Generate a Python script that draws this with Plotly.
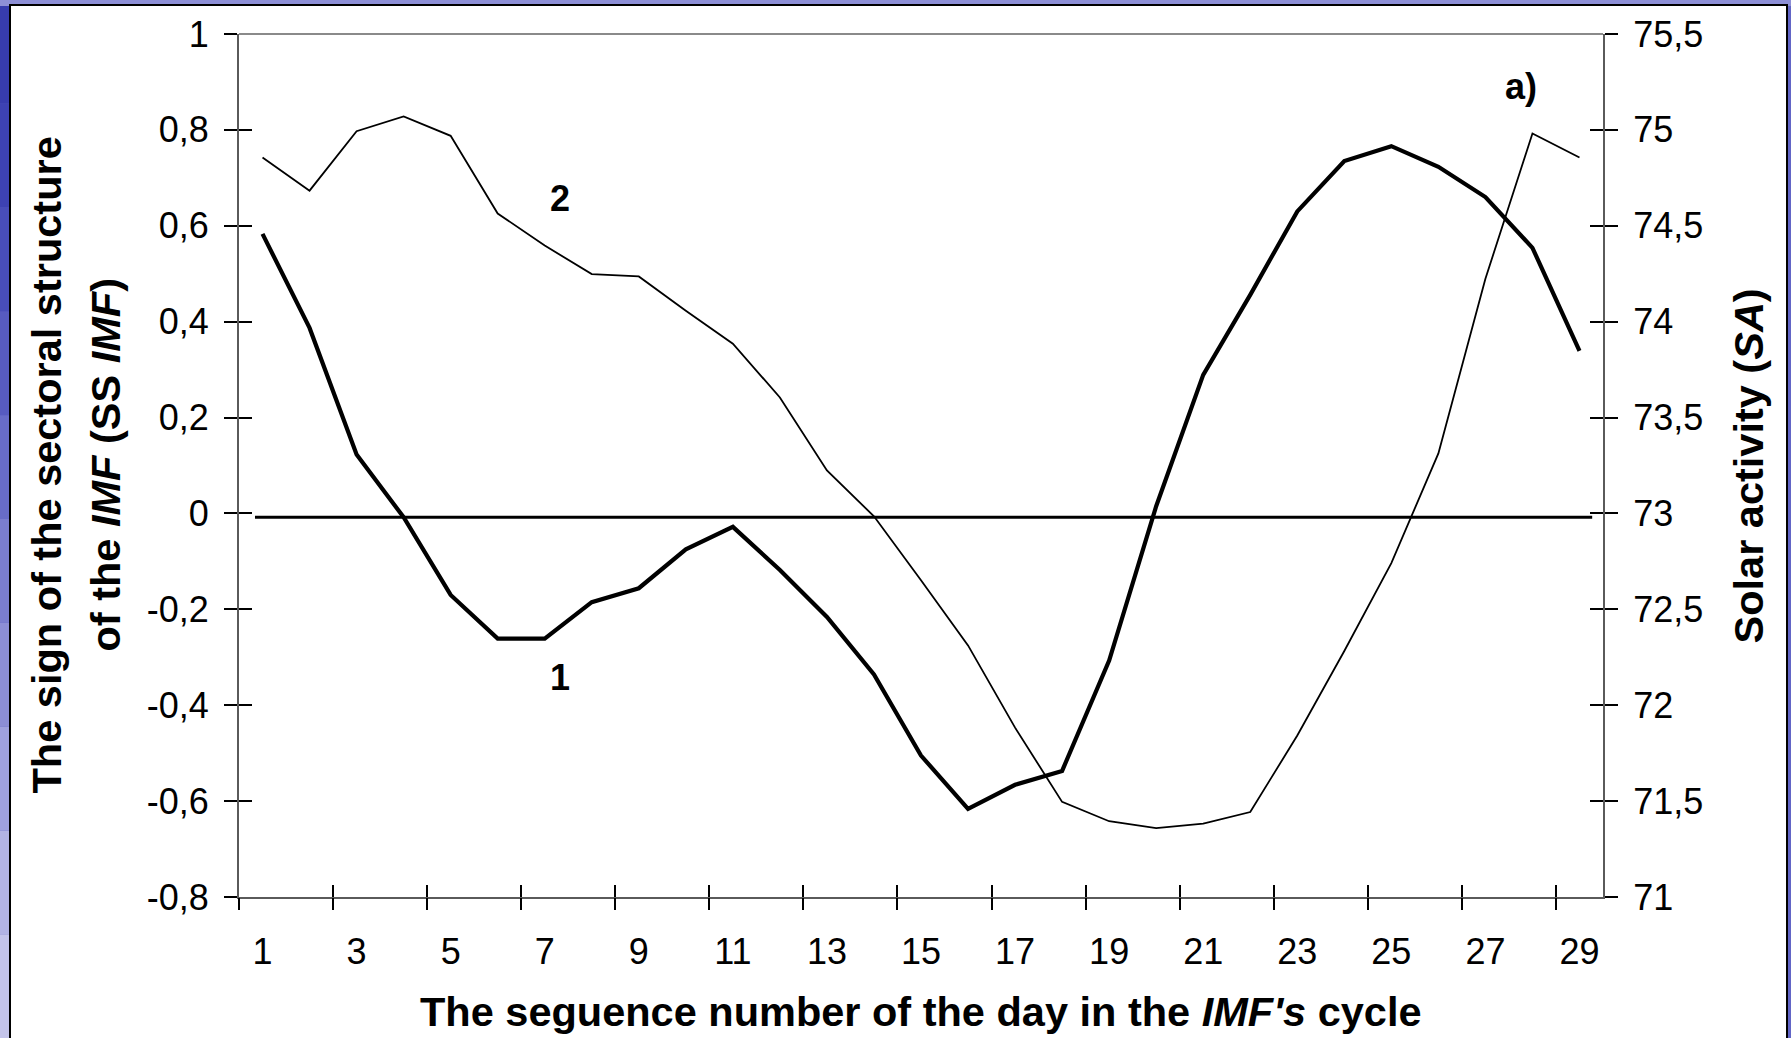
import plotly.graph_objects as go

# ---------------- data ----------------
days = list(range(1, 30))
ss_imf = [0.583, 0.387, 0.123, -0.008, -0.170, -0.261, -0.261, -0.185, -0.156, -0.075,
          -0.028, -0.118, -0.216, -0.336, -0.505, -0.616, -0.566, -0.537, -0.307, 0.015,
          0.289, 0.456, 0.630, 0.735, 0.766, 0.723, 0.660, 0.554, 0.339]
solar_activity = [74.856, 74.683, 74.993, 75.070, 74.969, 74.564, 74.397, 74.248, 74.236, 74.057,
                  73.885, 73.605, 73.224, 72.985, 72.652, 72.312, 71.883, 71.496, 71.395, 71.359,
                  71.383, 71.443, 71.842, 72.283, 72.741, 73.313, 74.224, 74.981, 74.856]
zero_line_x = [0.84, 29.27]
zero_line_y = [-0.008, -0.008]

x_tick_vals = list(range(1, 30, 2))
x_tick_text = [str(v) for v in x_tick_vals]
x_tick_marks = [0.5 + 2 * k for k in range(15)]

left_tick_vals = [1, 0.8, 0.6, 0.4, 0.2, 0, -0.2, -0.4, -0.6, -0.8]
left_tick_text = ["1", "0,8", "0,6", "0,4", "0,2", "0", "-0,2", "-0,4", "-0,6", "-0,8"]
right_tick_vals = [75.5, 75, 74.5, 74, 73.5, 73, 72.5, 72, 71.5, 71]
right_tick_text = ["75,5", "75", "74,5", "74", "73,5", "73", "72,5", "72", "71,5", "71"]

# ---------------- layout geometry ----------------
W, H = 1791, 1038
ML, MR, MT, MB = 239, 188, 34, 141
PW, PH = W - ML - MR, H - MT - MB


def px(x):
    return (x - ML) / PW


def py(y):
    return (H - MB - y) / PH


FONT = "Liberation Sans, Arial, sans-serif"

fig = go.Figure()
fig.add_trace(go.Scatter(x=zero_line_x, y=zero_line_y, mode="lines",
                         line=dict(color="black", width=3), hoverinfo="skip", showlegend=False))
fig.add_trace(go.Scatter(x=days, y=solar_activity, mode="lines", yaxis="y2",
                         line=dict(color="black", width=1.8), name="2", showlegend=False))
fig.add_trace(go.Scatter(x=days, y=ss_imf, mode="lines",
                         line=dict(color="black", width=4.2), name="1", showlegend=False))
# helper (empty) traces so that the tick-only overlay axes are rendered
fig.add_trace(go.Scatter(x=[None], y=[None], xaxis="x2", yaxis="y3", showlegend=False, hoverinfo="skip"))
fig.add_trace(go.Scatter(x=[None], y=[None], xaxis="x3", yaxis="y4", showlegend=False, hoverinfo="skip"))

tickfont = dict(family=FONT, size=36, color="black")
axline = "#5a5a5a"

fig.update_layout(
    width=W, height=H,
    margin=dict(l=ML, r=MR, t=MT, b=MB, pad=0),
    paper_bgcolor="#6265c6",
    plot_bgcolor="white",
    showlegend=False,
    xaxis=dict(range=[0.5, 29.5], tickmode="array", tickvals=x_tick_vals, ticktext=x_tick_text,
               ticks="", showgrid=False, zeroline=False, showline=True, linecolor=axline, linewidth=2,
               tickfont=tickfont, ticklabelstandoff=22, fixedrange=True),
    xaxis2=dict(range=[0.5, 29.5], overlaying="x", anchor="y", side="bottom", tickmode="array",
                tickvals=x_tick_marks, ticks="outside", ticklen=12, tickwidth=1.5, tickcolor="black",
                showticklabels=False, showgrid=False, zeroline=False, showline=False),
    xaxis3=dict(range=[0.5, 29.5], overlaying="x", anchor="y", side="bottom", tickmode="array",
                tickvals=x_tick_marks, ticks="inside", ticklen=12, tickwidth=1.5, tickcolor="black",
                showticklabels=False, showgrid=False, zeroline=False, showline=False),
    yaxis=dict(range=[-0.8, 1], tickmode="array", tickvals=left_tick_vals, ticktext=left_tick_text,
               ticks="outside", ticklen=13, tickwidth=1.5, tickcolor="black",
               showgrid=False, zeroline=False, showline=True, linecolor=axline, linewidth=2,
               tickfont=tickfont, ticklabelstandoff=8),
    yaxis2=dict(range=[71, 75.5], overlaying="y", side="right", anchor="x", tickmode="array",
                tickvals=right_tick_vals, ticktext=right_tick_text,
                ticks="outside", ticklen=13, tickwidth=1.5, tickcolor="black",
                showgrid=False, zeroline=False, showline=True, linecolor=axline, linewidth=2,
                tickfont=tickfont, ticklabelstandoff=8),
    yaxis3=dict(range=[-0.8, 1], overlaying="y", side="left", anchor="x", tickmode="array",
                tickvals=left_tick_vals, ticks="inside", ticklen=13, tickwidth=1.5, tickcolor="black",
                showticklabels=False, showgrid=False, zeroline=False, showline=False),
    yaxis4=dict(range=[71, 75.5], overlaying="y", side="right", anchor="x", tickmode="array",
                tickvals=right_tick_vals, ticks="inside", ticklen=13, tickwidth=1.5, tickcolor="black",
                showticklabels=False, showgrid=False, zeroline=False, showline=False),
)

shapes = []
# slide-like gradient strip on the left
grad = ["#c4c4ea", "#b2b3e4", "#9fa1de", "#8c8ed6", "#7a7dcf", "#686cc8", "#575bc0", "#484db9", "#3d42b3", "#373cae"]
n = len(grad)
for i, c in enumerate(grad):
    y0 = py(H - i * H / n)
    y1 = py(H - (i + 1) * H / n)
    shapes.append(dict(type="rect", xref="paper", yref="paper", x0=px(0), x1=px(11),
                       y0=y0, y1=y1, fillcolor=c, line=dict(width=0), layer="below"))
# top strip lighter
shapes.append(dict(type="rect", xref="paper", yref="paper", x0=px(0), x1=px(W),
                   y0=py(0), y1=py(6), fillcolor="#8d8fd6", line=dict(width=0), layer="below"))
# white slide panel with black frame
shapes.append(dict(type="rect", xref="paper", yref="paper", x0=px(10), x1=px(1787),
                   y0=py(H + 2), y1=py(5), fillcolor="white", line=dict(color="black", width=2),
                   layer="below"))
# top border of plot area
shapes.append(dict(type="line", xref="paper", yref="paper", x0=0, x1=1, y0=1, y1=1,
                   line=dict(color="#8a8a8a", width=2)))
fig.update_layout(shapes=shapes)

titlefont = dict(family=FONT, size=41.5, color="black")
ann = [
    dict(text="<b>The sign of the sectoral structure</b>", x=px(46), y=0.5, textangle=-90),
    dict(text="<b>of the <i>IMF</i> (SS <i>IMF</i>)</b>", x=px(105), y=0.5, textangle=-90),
    dict(text="<b>Solar activity (<i>SA</i>)</b>", x=px(1748), y=0.5, textangle=-90),
    dict(text="<b>The seguence number of the day in the <i>IMF's</i> cycle</b>", x=0.5, y=py(1011)),
]
for a in ann:
    fig.add_annotation(xref="paper", yref="paper", xanchor="center", yanchor="middle",
                       showarrow=False, font=titlefont, **a)

labelfont = dict(family=FONT, size=36, color="black")
fig.add_annotation(text="<b>2</b>", x=px(560), y=py(198), xref="paper", yref="paper",
                   showarrow=False, font=labelfont, xanchor="center", yanchor="middle")
fig.add_annotation(text="<b>1</b>", x=px(560), y=py(677), xref="paper", yref="paper",
                   showarrow=False, font=labelfont, xanchor="center", yanchor="middle")
fig.add_annotation(text="<b>a)</b>", x=px(1521), y=py(86), xref="paper", yref="paper",
                   showarrow=False, font=labelfont, xanchor="center", yanchor="middle")

fig.write_html("out.html")
